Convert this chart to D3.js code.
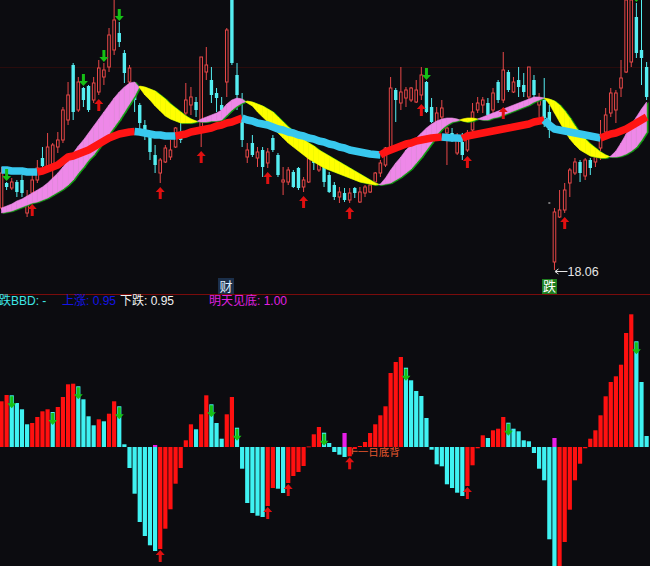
<!DOCTYPE html>
<html><head><meta charset="utf-8">
<script src="https://cdn.jsdelivr.net/npm/d3@7/dist/d3.min.js"></script>
<style>html,body{margin:0;padding:0;background:#0c0c10;overflow:hidden}svg{display:block}</style>
</head><body><svg id="c" width="650" height="566"></svg>
<script>
// ---------- DATA ----------
const openP=[18.68,18.93,18.88,18.94,18.96,18.63,18.83,18.96,19.18,19.08,
19.09,19.29,19.36,19.56,20.11,19.66,19.88,19.90,19.76,19.84,
19.99,20.09,20.26,20.43,20.23,19.94,19.84,19.71,19.51,19.39,
19.21,19.03,19.14,19.19,19.29,19.44,19.63,19.71,19.74,19.49,
20.04,19.96,19.83,19.71,19.94,20.76,20.01,19.56,19.19,19.33,
19.18,19.26,19.13,19.38,19.21,18.94,18.94,19.04,19.08,18.89,
18.94,19.18,19.06,19.11,19.01,18.91,18.79,18.83,18.76,18.88,
18.74,18.83,18.84,18.94,19.03,19.11,19.28,19.86,19.73,19.78,
19.76,19.74,19.81,19.94,19.69,19.53,19.59,19.43,19.43,19.23,
19.34,19.26,19.46,19.66,19.71,19.73,19.66,19.94,19.76,20.04,
19.84,19.96,19.91,19.79,19.96,19.71,19.76,19.64,18.14,18.59,
18.66,18.93,19.03,19.14,19.00,19.16,19.14,19.28,19.44,19.63,
19.66,19.88,20.04,20.14,20.59,20.26,20.09];
const highP=[19.09,18.94,18.98,18.96,19.01,18.86,19.03,19.16,19.29,19.43,
19.33,19.44,19.69,19.94,20.13,19.99,19.89,19.91,19.99,20.16,
20.13,20.48,20.81,20.54,20.26,20.11,19.93,19.73,19.56,19.44,
19.31,19.18,19.31,19.36,19.49,19.53,19.93,19.89,19.79,20.19,
20.29,20.09,19.88,19.79,20.48,20.81,20.13,19.83,19.33,19.41,
19.29,19.29,19.28,19.41,19.23,19.09,19.09,19.06,19.09,18.99,
19.19,19.29,19.24,19.19,19.04,18.94,18.89,18.88,18.88,18.89,
18.89,18.91,18.94,19.04,19.16,19.29,19.99,19.88,20.09,19.89,
19.89,19.96,20.09,19.95,19.78,19.69,19.76,19.49,19.48,19.43,
19.43,19.46,19.73,19.79,19.79,19.78,19.88,19.96,20.24,20.06,
19.99,20.09,20.03,20.09,20.01,19.83,19.98,19.71,18.68,18.86,
18.93,19.08,19.18,19.16,19.18,19.18,19.23,19.56,19.68,19.88,
19.86,20.16,20.81,20.81,20.73,20.76,20.14];
const lowP=[18.66,18.86,18.86,18.79,18.79,18.59,18.76,18.93,19.06,19.04,
18.91,19.23,19.33,19.51,19.56,19.64,19.69,19.64,19.73,19.81,
19.91,20.04,20.21,20.29,19.93,19.91,19.64,19.44,19.36,19.16,
19.03,18.93,19.13,19.16,19.28,19.33,19.54,19.61,19.59,19.29,
19.96,19.73,19.64,19.59,19.79,20.11,19.66,19.29,19.13,19.19,
19.09,18.99,19.08,19.24,18.99,18.81,18.91,18.88,18.86,18.84,
18.93,19.06,19.04,18.89,18.83,18.76,18.73,18.74,18.73,18.78,
18.73,18.79,18.83,18.91,18.99,19.09,19.26,19.54,19.66,19.69,
19.74,19.73,19.76,19.63,19.53,19.49,19.56,19.11,19.34,19.21,
19.16,19.24,19.44,19.63,19.63,19.59,19.63,19.73,19.73,19.84,
19.83,19.79,19.79,19.76,19.78,19.59,19.49,19.38,18.06,18.58,
18.63,18.79,19.01,18.94,18.96,19.01,19.09,19.16,19.42,19.59,
19.53,19.79,20.03,20.09,20.18,19.91,19.76];
const closeP=[19.03,18.89,18.94,18.84,18.83,18.76,18.96,19.08,19.10,19.29,
19.31,19.36,19.66,19.81,19.64,19.94,19.76,19.66,19.93,20.08,
20.06,20.41,20.56,20.34,20.03,20.08,19.76,19.53,19.41,19.24,
19.11,19.16,19.28,19.26,19.48,19.36,19.76,19.79,19.66,20.19,
20.11,19.81,19.78,19.66,20.46,20.13,19.81,19.36,19.26,19.21,
19.24,19.09,19.24,19.26,19.01,18.96,19.06,18.89,18.88,18.96,
19.18,19.13,19.16,18.94,18.84,18.79,18.84,18.76,18.83,18.83,
18.84,18.89,18.91,19.03,19.13,19.28,19.88,19.76,19.84,19.86,
19.88,19.86,20.01,19.64,19.54,19.63,19.68,19.48,19.36,19.36,
19.21,19.43,19.64,19.73,19.76,19.61,19.83,19.76,20.06,19.86,
19.94,19.89,19.84,20.09,19.81,19.78,19.58,19.46,18.64,18.66,
18.86,19.06,19.14,19.03,19.16,19.08,19.19,19.39,19.61,19.83,
19.83,19.98,20.76,20.76,20.23,20.18,19.79];
const maLong=[19.06,19.06,19.05,19.05,19.05,19.04,19.04,19.04,19.05,19.07,
19.09,19.11,19.15,19.19,19.20,19.22,19.24,19.26,19.29,19.32,
19.35,19.38,19.40,19.42,19.43,19.44,19.445,19.44,19.43,19.42,
19.41,19.41,19.40,19.40,19.40,19.41,19.42,19.44,19.45,19.46,
19.47,19.48,19.50,19.51,19.53,19.54,19.56,19.58,19.56,19.55,
19.53,19.52,19.51,19.49,19.47,19.46,19.44,19.43,19.41,19.40,
19.38,19.37,19.35,19.34,19.32,19.31,19.29,19.28,19.26,19.25,
19.24,19.23,19.22,19.215,19.21,19.24,19.26,19.28,19.30,19.32,
19.33,19.35,19.36,19.37,19.38,19.385,19.39,19.385,19.38,19.38,
19.375,19.40,19.41,19.42,19.43,19.44,19.45,19.46,19.47,19.48,
19.49,19.50,19.51,19.52,19.54,19.55,19.56,19.51,19.47,19.46,
19.45,19.44,19.43,19.42,19.41,19.40,19.39,19.38,19.40,19.42,
19.43,19.45,19.47,19.50,19.53,19.56,19.59];
const maFast=[18.68,18.70,18.72,18.75,18.77,18.80,18.83,18.86,18.89,18.93,
18.98,19.03,19.09,19.16,19.23,19.30,19.36,19.43,19.50,19.57,
19.64,19.71,19.78,19.84,19.89,19.93,19.94,19.88,19.81,19.76,
19.70,19.65,19.60,19.57,19.55,19.53,19.53,19.53,19.54,19.57,
19.59,19.61,19.63,19.66,19.72,19.76,19.78,19.77,19.73,19.70,
19.64,19.59,19.54,19.49,19.43,19.38,19.33,19.29,19.25,19.21,
19.17,19.14,19.11,19.08,19.06,19.04,19.02,19.00,18.98,18.96,
18.94,18.93,18.92,18.91,18.92,18.98,19.06,19.13,19.19,19.26,
19.31,19.38,19.43,19.48,19.52,19.55,19.57,19.58,19.58,19.57,
19.55,19.54,19.55,19.57,19.59,19.61,19.63,19.65,19.67,19.69,
19.71,19.73,19.75,19.77,19.79,19.79,19.78,19.72,19.63,19.54,
19.45,19.37,19.31,19.26,19.23,19.20,19.19,19.18,19.18,19.20,
19.25,19.33,19.42,19.51,19.59,19.67,19.74];
const maSlow=[18.63,18.64,18.65,18.67,18.69,18.71,18.73,18.74,18.76,18.78,
18.81,18.84,18.87,18.91,18.96,19.03,19.09,19.16,19.21,19.28,
19.35,19.42,19.49,19.56,19.64,19.72,19.80,19.90,19.89,19.87,
19.85,19.81,19.77,19.72,19.68,19.64,19.60,19.57,19.55,19.54,
19.54,19.55,19.55,19.56,19.61,19.66,19.70,19.73,19.75,19.74,
19.72,19.70,19.67,19.64,19.59,19.54,19.49,19.45,19.41,19.37,
19.33,19.30,19.26,19.23,19.20,19.17,19.14,19.11,19.08,19.05,
19.02,18.99,18.96,18.93,18.91,18.92,18.93,18.96,18.99,19.03,
19.07,19.13,19.19,19.26,19.33,19.41,19.47,19.51,19.54,19.55,
19.57,19.58,19.58,19.57,19.56,19.56,19.58,19.59,19.61,19.63,
19.65,19.67,19.69,19.71,19.74,19.76,19.78,19.77,19.75,19.71,
19.65,19.58,19.50,19.43,19.37,19.32,19.28,19.24,19.21,19.19,
19.19,19.20,19.22,19.25,19.29,19.36,19.44];
const bbd=[45.7,52,51.7,44,37.7,22.7,24,30,35.7,37.7,
35,40,50,62.7,63.3,60.7,47.7,30.7,21.7,27.7,
25.7,33.3,45.7,40.7,2.7,-21,-46.7,-75,-89,-98.3,
-104,-102,-81.7,-62.3,-36.7,-21,6.7,22.7,17.7,32.7,
51.7,42.7,24,8.3,32.7,50,19.3,-21.7,-56,-66,
-68.7,-70,-59,-41,-41.7,-46,-36,-29,-25,-19,
0.5,12.7,20,14.3,4,-5,-7.7,-10,-9.3,-2,
1,5,14,22.7,31.7,40.7,74,85,90,79.3,
66.7,56,51,29,-2.7,-17.3,-19.3,-37.3,-41,-45.7,
-49,-39,-18.3,-1.3,11.7,9,16.7,18.3,30,24.3,
18.3,15.7,6.7,5.7,-6,-21.7,-33.3,-92.3,-125,-122,
-95,-62.7,-33.3,-16.7,-1.3,8.3,16.7,31.7,50.7,65,
70.7,82.3,114,132.7,105.7,65,11];
const bottomSignalIdx=[30,67,108];
const bottomSignalVal=[2,14,9];
const topUpArrows=[6,19,31,39,52,59,68,82,91,98,110];
const topDownArrows=[1,16,20,23,83,124];
const botDownArrows=[2,10,15,23,41,46,63,79,99,124];
const botUpArrows=[31,52,56,68,91];
const legendTexts=["跌BBD: -","上涨: 0.95","下跌: 0.95","明天见底: 1.00"];
const legendColors=["#3fe6e6","#1414e6","#f2f2f2","#e020e0"];
const noteText="一日底背";
const noteIdx=68;
const tagCai="财", tagDie="跌";

// ---------- SETUP ----------
const N=openP.length;
const svg=d3.select("#c");
svg.append("rect").attr("width",650).attr("height",566).attr("fill","#0c0c10");
const x=d3.scaleBand().domain(d3.range(N)).range([-1.06,649.18]).paddingInner(0.18).paddingOuter(0.09);
const cx=i=>x(i)+x.bandwidth()/2;
const yT=d3.scaleLinear().domain([18.06,20.76]).range([270,0]);
const yB=d3.scaleLinear().domain([0,100]).range([447,347]);

const defs=svg.append("defs");
defs.append("clipPath").attr("id","ct").append("rect").attr("x",0).attr("y",0).attr("width",650).attr("height",293);
defs.append("clipPath").attr("id","cb").append("rect").attr("x",0).attr("y",295).attr("width",650).attr("height",271);

const FONT="'Liberation Sans','Noto Sans CJK SC',sans-serif";
const RED="#ff1010", CYAN="#3ff2f2";

// faint grid line and divider
svg.append("line").attr("x1",0).attr("x2",650).attr("y1",67.5).attr("y2",67.5).attr("stroke","#2a0c0c").attr("stroke-width",1);
svg.append("line").attr("x1",0).attr("x2",650).attr("y1",294.5).attr("y2",294.5).attr("stroke","#7a0c0c").attr("stroke-width",1);

// ---------- TOP PANEL ----------
const gT=svg.append("g").attr("clip-path","url(#ct)");
const candleRed="#e84848", candleCyan="#55eef2";
const cg=gT.append("g");
d3.range(N).forEach(i=>{
  const up=closeP[i]>=openP[i];
  const c=cx(i);
  const bt=yT(Math.max(openP[i],closeP[i])), bb=yT(Math.min(openP[i],closeP[i]));
  if(up){
    cg.append("line").attr("x1",c).attr("x2",c).attr("y1",yT(highP[i])).attr("y2",bt).attr("stroke",candleRed);
    cg.append("line").attr("x1",c).attr("x2",c).attr("y1",bb).attr("y2",yT(lowP[i])).attr("stroke",candleRed);
    cg.append("rect").attr("x",c-1.3).attr("y",bt).attr("width",2.6).attr("height",Math.max(bb-bt,0.8))
      .attr("fill","#0c0c10").attr("stroke",candleRed).attr("stroke-width",1);
  } else {
    cg.append("line").attr("x1",c).attr("x2",c).attr("y1",yT(highP[i])).attr("y2",yT(lowP[i])).attr("stroke",candleCyan);
    cg.append("rect").attr("x",c-1.7).attr("y",bt).attr("width",3.4).attr("height",Math.max(bb-bt,1)).attr("fill",candleCyan);
  }
});

// ribbon between fast and slow
const polys=[];
for(let i=0;i<N-1;i++){
  const x0=cx(i),x1=cx(i+1);
  const f0=maFast[i],f1=maFast[i+1],s0=maSlow[i],s1=maSlow[i+1];
  const d0=f0-s0,d1=f1-s1;
  if(d0*d1>=0){
    polys.push({pts:[[x0,yT(f0)],[x1,yT(f1)],[x1,yT(s1)],[x0,yT(s0)]],up:(d0+d1)>=0});
  } else {
    const t=d0/(d0-d1), xm=x0+t*(x1-x0), pm=f0+t*(f1-f0);
    polys.push({pts:[[x0,yT(f0)],[xm,yT(pm)],[x0,yT(s0)]],up:d0>0});
    polys.push({pts:[[xm,yT(pm)],[x1,yT(f1)],[x1,yT(s1)]],up:d1>0});
  }
}
const line=d3.line();
const rg=gT.append("g");
rg.selectAll("path.sh").data(polys).join("path").attr("class","sh")
  .attr("d",p=>line(p.pts)+"Z").attr("transform","translate(1.6,0.6)")
  .attr("fill","#12a012").attr("stroke","#12a012").attr("stroke-width",0.6);
rg.selectAll("path.bd").data(polys).join("path").attr("class","bd")
  .attr("d",p=>line(p.pts)+"Z")
  .attr("fill",p=>p.up?"#ee88e8":"#ffff00").attr("stroke",p=>p.up?"#ee88e8":"#ffff00").attr("stroke-width",0.6);

// long MA, coloured by direction
const maDir=[];let cur=false;
maLong.forEach((v,i)=>{ if(i>0){ if(v>maLong[i-1]) cur=true; else if(v<maLong[i-1]) cur=false; } maDir.push(cur); });
const mg=gT.append("g");
let runStart=0;
for(let i=1;i<=N;i++){
  if(i===N || maDir[i]!==maDir[runStart===0?1:runStart] ){
    // draw run
  }
}
// simpler: segments grouped by colour
const runs=[];let rs=1;
for(let i=2;i<=N;i++){
  if(i===N||maDir[i]!==maDir[rs]){ runs.push({a:rs-1,b:i-1,up:maDir[rs]}); rs=i; }
}
runs.forEach(r=>{
  const pts=d3.range(r.a,r.b+1).map(i=>[cx(i),yT(maLong[i])]);
  mg.append("path").attr("d",d3.line()(pts)).attr("fill","none")
    .attr("stroke",r.up?"#ff1414":"#38c8ee").attr("stroke-width",7.5).attr("stroke-linecap","butt")
    .attr("stroke-linejoin","round");
});

// arrows
function upArrow(c,y,col,g){ // tip at y, pointing up
  g.append("path").attr("d",`M${c},${y}L${c+4.5},${y+5}L${c+1.5},${y+5}L${c+1.5},${y+12}L${c-1.5},${y+12}L${c-1.5},${y+5}L${c-4.5},${y+5}Z`).attr("fill",col);
}
function downArrow(c,y,col,g){ // tip at y, pointing down
  g.append("path").attr("d",`M${c},${y}L${c+4.5},${y-5}L${c+1.5},${y-5}L${c+1.5},${y-12}L${c-1.5},${y-12}L${c-1.5},${y-5}L${c-4.5},${y-5}Z`).attr("fill",col);
}
const ag=gT.append("g");
topUpArrows.forEach(i=>upArrow(cx(i),yT(lowP[i])+4,"#e01010",ag));
topDownArrows.forEach(i=>downArrow(cx(i),yT(highP[i])-1,"#16c016",ag));

// min price label
const mi=d3.minIndex(lowP);
const mx=cx(mi), my=yT(lowP[mi]);
gT.append("line").attr("x1",mx+1).attr("x2",mx+13).attr("y1",my+1.5).attr("y2",my+1.5).attr("stroke","#e6e6e6");
gT.append("path").attr("d",`M${mx+0.5},${my+1.5}L${mx+4},${my-1}M${mx+0.5},${my+1.5}L${mx+4},${my+4}`).attr("stroke","#e6e6e6").attr("fill","none");
gT.append("text").attr("x",mx+13).attr("y",my+6).attr("fill","#e6e6e6").attr("font-family",FONT).attr("font-size",12.5).text(d3.format(".2f")(lowP[mi]));
gT.append("rect").attr("x",cx(107)-1).attr("y",202.5).attr("width",2).attr("height",1).attr("fill","#dddddd");

// tags
svg.append("rect").attr("x",218).attr("y",278).attr("width",16).attr("height",16).attr("fill","#1b2f4a");
svg.append("text").attr("x",226).attr("y",291).attr("text-anchor","middle").attr("fill","#dfeeff").attr("font-family",FONT).attr("font-size",13).text(tagCai);
svg.append("rect").attr("x",542).attr("y",279).attr("width",15).attr("height",15).attr("fill","#1e7e1e");
svg.append("text").attr("x",549.5).attr("y",291).attr("text-anchor","middle").attr("fill","#ffffff").attr("font-family",FONT).attr("font-size",13).text(tagDie);

// ---------- BOTTOM PANEL ----------
const gB=svg.append("g").attr("clip-path","url(#cb)");
const y0=yB(0);
gB.selectAll("rect.bar").data(bbd).join("rect").attr("class","bar")
  .attr("x",(d,i)=>x(i)).attr("width",x.bandwidth())
  .attr("y",d=>d>=0?yB(d):y0).attr("height",d=>Math.max(Math.abs(yB(d)-y0),0.8))
  .attr("fill",(d,i)=>(i===0||d>bbd[i-1])?RED:CYAN);
bottomSignalIdx.forEach((i,k)=>{
  gB.append("rect").attr("x",x(i)).attr("width",x.bandwidth()).attr("y",yB(bottomSignalVal[k])).attr("height",y0-yB(bottomSignalVal[k])).attr("fill","#e81ee8");
});
botDownArrows.forEach(i=>downArrow(cx(i),yB(bbd[i])+13,"#16c016",gB));
botUpArrows.forEach(i=>upArrow(cx(i),yB(bbd[i])+1,"#e01010",gB));
// note
const nx=cx(noteIdx)+3, ny=yB(bbd[noteIdx])-5;
gB.append("line").attr("x1",nx).attr("x2",nx+5).attr("y1",ny).attr("y2",ny).attr("stroke","#e8582e");
gB.append("line").attr("x1",nx).attr("x2",nx).attr("y1",ny-3).attr("y2",ny+3).attr("stroke","#e8582e");
gB.append("text").attr("x",nx+5).attr("y",ny+4.5).attr("fill","#e8582e").attr("font-family",FONT).attr("font-size",10.5).text(noteText);

// legend
const legX=[-1,62,120,209];
legendTexts.forEach((t,k)=>{
  svg.append("text").attr("x",legX[k]).attr("y",305).attr("fill",legendColors[k]).attr("font-family",FONT).attr("font-size",12).text(t);
});
</script></body></html>
